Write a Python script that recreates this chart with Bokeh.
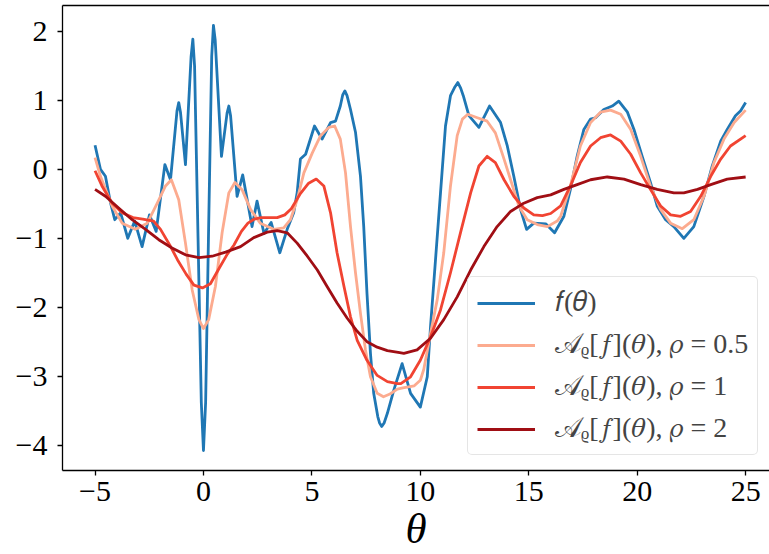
from bokeh.plotting import figure
from bokeh.models import Range1d, FixedTicker, LinearAxis, Legend, LegendItem
from bokeh.embed import file_html
from bokeh.resources import INLINE

# ---- data ----
theta_f = [-5.0, -4.75, -4.52, -4.29, -4.09, -3.82, -3.49, -3.17, -2.83, -2.49, -2.18,
           -1.78, -1.52, -1.22, -1.14, -1.06, -0.83, -0.57, -0.49, -0.41, -0.25, -0.1, 0.0,
           0.1, 0.23, 0.38, 0.46, 0.54, 0.83, 1.09, 1.17, 1.25, 1.55,
           1.81, 2.24, 2.47, 2.79, 3.12, 3.52, 3.86, 4.16, 4.32, 4.47, 4.71, 5.12, 5.47,
           5.86, 6.09, 6.31, 6.42, 6.52, 6.62, 6.78, 7.01, 7.24, 7.39, 7.54, 7.70, 7.85, 8.04,
           8.12, 8.22, 8.33, 8.48, 8.78, 9.16, 9.55, 10.0, 10.32, 10.47, 10.70, 10.93, 11.16,
           11.39, 11.60, 11.73, 11.86,
           11.98, 12.24, 12.70, 13.19, 13.70, 14.01, 14.31, 14.62, 14.90, 15.23, 15.78,
           16.19, 16.62, 16.92, 17.23, 17.54, 17.85, 18.08, 18.46, 18.85, 19.15, 19.55,
           19.85, 20.23, 20.61, 20.92, 21.31, 21.69, 22.15, 22.61, 23.08, 23.46, 23.85,
           24.15, 24.53, 24.77, 25.0]
f_vals = [0.35, 0.0, -0.1, -0.48, -0.73, -0.63, -1.0, -0.75, -1.12, -0.66, -0.9,
          0.07, -0.15, 0.85, 0.97, 0.83, 0.07, 1.64, 1.89, 1.5, -1.0, -3.38, -4.08,
          -3.38, -1.0, 1.64, 2.09, 1.88, 0.19, 0.82, 0.92, 0.78, -0.39,
          -0.08, -0.83, -0.46, -0.93, -0.77, -1.21, -0.87, -0.63, -0.34, 0.15, 0.22, 0.63, 0.44,
          0.68, 0.70, 0.92, 1.08, 1.14, 1.07, 0.87, 0.54, -0.1, -0.83, -1.8, -2.67, -3.25, -3.59,
          -3.68, -3.73, -3.68, -3.54, -3.2, -2.82, -3.25, -3.45, -3.01, -2.28, -1.31, -0.34, 0.63,
          1.07, 1.20, 1.26, 1.18,
          1.07, 0.78, 0.61, 0.92, 0.68, 0.34, -0.1, -0.58, -0.87, -0.78, -0.79,
          -0.92, -0.68, -0.29, 0.19, 0.58, 0.73, 0.75, 0.87, 0.92, 0.99, 0.83,
          0.58, 0.19, -0.19, -0.53, -0.73, -0.83, -1.0, -0.83, -0.39, 0.05, 0.41,
          0.58, 0.78, 0.85, 0.97]

theta_a05 = [-5.0, -4.75, -4.21, -3.75, -3.14, -2.59, -2.13, -1.75, -1.48, -1.14, -0.83,
             -0.52, -0.21, 0.0, 0.24, 0.55, 0.86, 1.17, 1.45, 1.79, 2.17, 2.62, 3.24, 3.70,
             4.01, 4.32, 4.63, 5.02, 5.40, 5.78, 6.05, 6.31, 6.55, 6.78, 7.01, 7.24, 7.47,
             7.70, 8.01, 8.30, 8.60, 8.94, 9.19, 9.72, 10.00, 10.16, 10.47, 10.78, 11.08, 11.39,
             11.70, 11.94, 12.19, 12.63, 13.08, 13.46, 13.86, 14.16, 14.54, 14.93, 15.39,
             15.86, 16.31, 16.47, 16.92, 17.38, 17.85, 18.31, 18.77, 19.24, 19.70, 20.16,
             20.61, 21.08, 21.54, 22.08, 22.61, 23.08, 23.54, 24.00, 24.47, 25.0]
a05_vals = [0.17, -0.1, -0.53, -0.78, -0.87, -0.78, -0.49, -0.24, -0.15, -0.44, -1.07,
            -1.75, -2.18, -2.31, -2.18, -1.7, -0.92, -0.34, -0.19, -0.3, -0.58, -0.78, -0.87, -0.85,
            -0.73, -0.44, -0.05, 0.24, 0.49, 0.61, 0.63, 0.44, -0.05, -0.83, -1.5, -2.09, -2.62,
            -3.01, -3.25, -3.30, -3.26, -3.19, -3.17, -3.14, -3.06, -2.9, -2.38, -1.89, -1.21, -0.24,
            0.49, 0.73, 0.80, 0.75, 0.70, 0.53, 0.15, -0.15, -0.53, -0.73, -0.80,
            -0.83, -0.75, -0.68, -0.24, 0.34, 0.68, 0.83, 0.86, 0.80, 0.58, 0.19,
            -0.24, -0.58, -0.78, -0.86, -0.73, -0.39, 0.1, 0.44, 0.68, 0.86]

theta_a1 = [-5.0, -4.68, -4.21, -3.75, -3.25, -2.80, -2.30, -1.98, -1.55, -1.20, -0.80,
            -0.44, -0.05, 0.32, 0.75, 1.10, 1.40, 1.75, 2.05, 2.35, 2.65, 3.00, 3.40, 3.75,
            4.05, 4.45, 4.85, 5.20, 5.55, 5.86, 6.16, 6.48, 6.78, 7.09, 7.54, 8.01, 8.48,
            8.94, 9.10, 9.55, 10.0, 10.47, 10.93, 11.39, 11.85, 12.32, 12.70, 13.08, 13.46,
            13.86, 14.31, 14.77, 15.23, 15.63, 16.01, 16.47, 16.92, 17.38, 17.85, 18.31,
            18.77, 19.24, 19.70, 20.16, 20.61, 21.08, 21.54, 22.00, 22.46, 22.93, 23.39,
            23.85, 24.30, 25.0]
a1_vals = [-0.02, -0.24, -0.49, -0.63, -0.70, -0.72, -0.75, -0.87, -1.1, -1.31, -1.52,
           -1.68, -1.72, -1.66, -1.42, -1.23, -1.1, -0.90, -0.78, -0.72, -0.70, -0.70, -0.70, -0.66,
           -0.57, -0.36, -0.20, -0.14, -0.24, -0.63, -1.21, -1.70, -2.14, -2.48, -2.77, -2.99, -3.08,
           -3.11, -3.11, -3.01, -2.77, -2.43, -2.04, -1.5, -0.92, -0.34, 0.05, 0.19, 0.10,
           -0.15, -0.39, -0.56, -0.66, -0.67, -0.64, -0.53, -0.24, 0.1, 0.34, 0.46,
           0.50, 0.41, 0.22, -0.05, -0.29, -0.53, -0.66, -0.68, -0.61, -0.39, -0.1,
           0.15, 0.34, 0.49]

theta_a2 = [-5.0, -4.52, -3.91, -3.29, -2.67, -2.06, -1.45, -0.83, -0.21, 0.40, 1.02,
            1.71, 2.32, 2.94, 3.40, 3.86, 4.32, 4.79, 5.25, 5.70, 6.16, 6.63, 7.09, 7.54,
            8.01, 8.48, 9.05, 9.24, 9.85, 10.47, 11.08, 11.70, 12.32, 12.93, 13.54, 14.16,
            14.77, 15.39, 16.01, 16.62, 17.23, 17.85, 18.62, 19.39, 20.16, 20.92, 21.69,
            22.15, 22.78, 23.39, 24.15, 25.0]
a2_vals = [-0.29, -0.39, -0.56, -0.73, -0.87, -1.02, -1.14, -1.24, -1.28, -1.26, -1.2,
           -1.12, -0.99, -0.91, -0.89, -0.92, -1.07, -1.26, -1.46, -1.70, -1.94, -2.16, -2.35, -2.5,
           -2.58, -2.63, -2.66, -2.67, -2.62, -2.45, -2.18, -1.85, -1.46, -1.12, -0.83, -0.61,
           -0.49, -0.41, -0.37, -0.29, -0.22, -0.15, -0.11, -0.14, -0.22, -0.29, -0.34,
           -0.34, -0.29, -0.22, -0.14, -0.11]

series_labels = ["\U0001D453(\U0001D703)",
                 "\U0001D49C\u1D68[\U0001D453](\U0001D703), \U0001D70C = 0.5",
                 "\U0001D49C\u1D68[\U0001D453](\U0001D703), \U0001D70C = 1",
                 "\U0001D49C\u1D68[\U0001D453](\U0001D703), \U0001D70C = 2"]
series_colors = ["#1f77b4", "#fcab8f", "#f14432", "#a00e14"]

x_ticks = [-5, 0, 5, 10, 15, 20, 25]
x_tick_labels = ["\u22125", "0", "5", "10", "15", "20", "25"]
y_ticks = [-4, -3, -2, -1, 0, 1, 2]
y_tick_labels = ["\u22124", "\u22123", "\u22122", "\u22121", "0", "1", "2"]
x_axis_title = "\u03B8"

FONT = "Liberation Serif"

p = figure(width=769, height=554, output_backend="svg", toolbar_location=None,
           x_range=Range1d(-6.5, 26.1), y_range=Range1d(-4.37, 2.379),
           min_border_left=62, min_border_right=0, min_border_top=5, min_border_bottom=84)
p.grid.visible = False
p.outline_line_color = None
p.background_fill_color = "white"

for ax, ticks, labs in ((p.xaxis, x_ticks, x_tick_labels), (p.yaxis, y_ticks, y_tick_labels)):
    ax.ticker = FixedTicker(ticks=ticks)
    ax.major_label_overrides = {t: l for t, l in zip(ticks, labs)}
    ax.major_label_text_font = FONT
    ax.major_label_text_font_size = "30px"
    ax.major_label_text_color = "black"
    ax.axis_line_color = "black"
    ax.axis_line_width = 1.3
    ax.major_tick_line_color = "black"
    ax.major_tick_line_width = 1.3
    ax.major_tick_out = 5
    ax.major_tick_in = 0
    ax.minor_tick_line_color = None
p.xaxis.major_label_standoff = 6
p.yaxis.major_label_standoff = 10

p.xaxis.axis_label = x_axis_title
p.xaxis.axis_label_text_font = FONT
p.xaxis.axis_label_text_font_style = "italic"
p.xaxis.axis_label_text_font_size = "43px"
p.xaxis.axis_label_text_color = "black"
p.xaxis.axis_label_standoff = 1

top = LinearAxis(ticker=FixedTicker(ticks=[]), axis_line_color="black", axis_line_width=1.3,
                 major_label_text_font_size="0px", major_tick_line_color=None,
                 minor_tick_line_color=None)
p.add_layout(top, "above")

xs = [theta_f, theta_a05, theta_a1, theta_a2]
ys = [f_vals, a05_vals, a1_vals, a2_vals]
items = []
for x, y, c, lab in zip(xs, ys, series_colors, series_labels):
    r = p.line(x, y, line_color=c, line_width=2.8, line_join="round")
    items.append(LegendItem(label=lab, renderers=[r]))

legend = Legend(items=items, location=(405, 15),
                label_text_font=FONT, label_text_font_size="28px",
                glyph_width=58, glyph_height=30, label_height=30,
                label_standoff=20, spacing=9, padding=9, margin=0,
                border_line_color="#cccccc", border_line_width=1.3,
                background_fill_color="white", background_fill_alpha=0.85)
try:
    legend.border_radius = 5
except Exception:
    pass
p.add_layout(legend, "center")

open("out.html", "w").write(file_html(p, INLINE))
